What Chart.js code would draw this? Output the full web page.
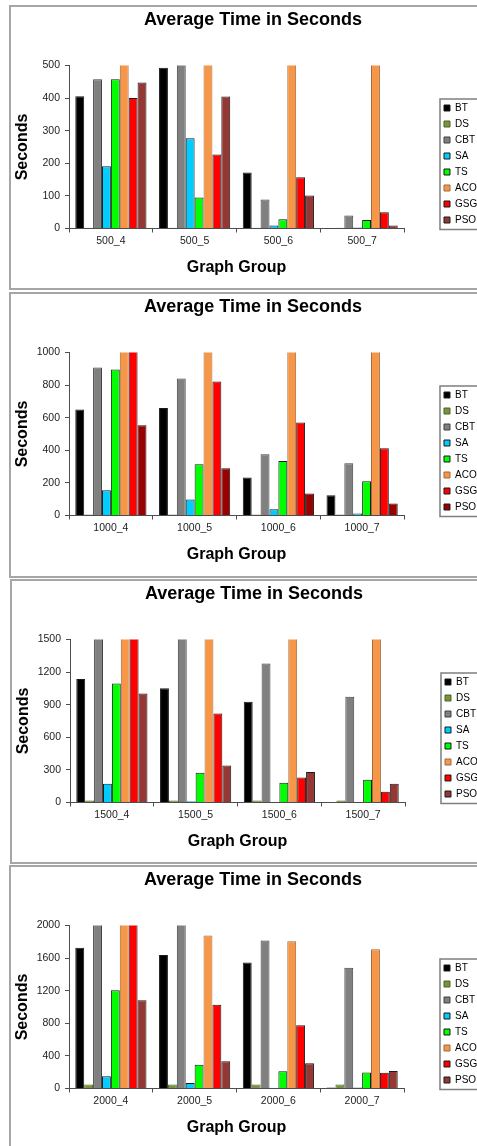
<!DOCTYPE html>
<html>
<head>
<meta charset="utf-8">
<script src="https://cdn.jsdelivr.net/npm/chart.js@4.4.0/dist/chart.umd.min.js"></script>
<style>
html, body { margin: 0; padding: 0; background: #fff; width: 477px; height: 1146px; overflow: hidden; position: relative; }
.panel { position: absolute; width: 500px; box-sizing: border-box; border: 2px solid #a6a6a6; background: #fff; overflow: hidden; }
.panel canvas { position: absolute; left: 0; top: 0; }
</style>
</head>
<body>
<div class="panel" style="left:9px;top:5px;height:285px"><canvas id="c0" width="484" height="281"></canvas></div>
<div class="panel" style="left:9px;top:292px;height:286px"><canvas id="c1" width="484" height="281"></canvas></div>
<div class="panel" style="left:10px;top:579px;height:285px"><canvas id="c2" width="484" height="281"></canvas></div>
<div class="panel" style="left:9px;top:865px;height:285px"><canvas id="c3" width="484" height="281"></canvas></div>
<script>
// one row per chart: 500, 1000, 1500, 2000 node graphs
var groups = [
    ['500_4', '500_5', '500_6', '500_7'],
    ['1000_4', '1000_5', '1000_6', '1000_7'],
    ['1500_4', '1500_5', '1500_6', '1500_7'],
    ['2000_4', '2000_5', '2000_6', '2000_7']
];
var series = ['BT', 'DS', 'CBT', 'SA', 'TS', 'ACO', 'GSGO', 'PSO'];
var yMax = [500, 1000, 1500, 2000];
var yStep = [100, 200, 300, 400];

var BT   = [[406, 493, 172, 1], [651, 659, 233, 124], [1137, 1051, 928, 4], [1727, 1637, 1547, 12]];
var DS   = [[2, 2, 2, 2], [6, 6, 6, 6], [18, 18, 18, 18], [49, 49, 49, 49]];
var CBT  = [[458, 560, 89, 40], [908, 841, 376, 320], [1620, 1580, 1279, 974], [2150, 2100, 1816, 1482]];
var SA   = [[191, 277, 9, 3], [155, 98, 39, 12], [172, 12, 3, 3], [151, 69, 10, 12]];
var TS   = [[458, 95, 28, 26], [896, 314, 335, 210], [1094, 274, 181, 209], [1204, 290, 212, 196]];
var ACO  = [[620, 600, 580, 560], [1250, 1200, 1180, 1150], [1800, 1750, 1700, 1650], [2050, 1878, 1808, 1710]];
var GSGO = [[400, 227, 157, 50], [1050, 822, 571, 412], [1560, 818, 230, 98], [2030, 1029, 776, 192]];
var PSO  = [[448, 405, 101, 9], [553, 290, 135, 73], [1002, 341, 280, 172], [1082, 335, 310, 216]];

var fills = ['#000000', '#77933C', '#808080', '#00CCFF', '#00FF00', '#F79646', '#FF0000', '#953735'];
var edges = ['#1a1a1a', '#4f6228', '#404040', '#1a1a1a', '#1a1a1a', '#9c6a40', '#1a1a1a', '#1a1a1a'];
var psoDark = '#990000';
var FONT = "'Liberation Sans', Arial, sans-serif";
var AXIS = '#4d4d4d';

// frame round the legend like the excel legend box
var legendFrame = {
    id: 'legendFrame',
    afterDraw: function(chart) {
        var hb = chart.legend.legendHitBoxes;
        if (!hb || !hb.length) return;
        var first = hb[0], last = hb[hb.length - 1];
        var ctx = chart.ctx;
        ctx.save();
        ctx.strokeStyle = '#7f7f7f';
        ctx.lineWidth = 1.5;
        ctx.strokeRect(first.left - 4, first.top - 4, chart.width, last.top + last.height - first.top + 8.5);
        ctx.restore();
    }
};

function makeChart(i) {
    var all = [BT, DS, CBT, SA, TS, ACO, GSGO, PSO];
    var ctx = document.getElementById('c' + i).getContext('2d');
    return new Chart(ctx, {
        type: 'bar',
        data: {
            labels: groups[i],
            datasets: series.map(function(name, k) {
                return {
                    label: name,
                    data: all[k][i],
                    backgroundColor: (k === 7 && i === 1) ? psoDark : fills[k],
                    borderColor: edges[k],
                    borderWidth: 1,
                    barPercentage: 1,
                    categoryPercentage: 0.85,
                    clip: 0
                };
            })
        },
        options: {
            responsive: false,
            animation: false,
            layout: { padding: 0 },
            plugins: {
                title: {
                    display: true,
                    text: 'Average Time in Seconds',
                    color: '#000',
                    font: { family: FONT, size: 18, weight: 'bold' },
                    padding: { top: 2.5, bottom: 34.4 }
                },
                legend: {
                    position: 'right',
                    align: 'start',
                    title: { display: true, text: ' ', font: { size: 10 }, padding: { top: 0, bottom: 78 } },
                    labels: {
                        boxWidth: 6,
                        boxHeight: 6,
                        padding: 6,
                        color: '#000',
                        font: { family: FONT, size: 10 }
                    }
                },
                tooltip: { enabled: false }
            },
            scales: {
                x: {
                    grid: { display: true, drawOnChartArea: false, drawTicks: true, tickLength: 4, color: AXIS, offset: true },
                    border: { display: true, color: AXIS, width: 1 },
                    ticks: { color: '#222', font: { family: FONT, size: 10.5 }, padding: 2, maxRotation: 0, autoSkip: false },
                    title: {
                        display: true,
                        text: 'Graph Group',
                        color: '#000',
                        font: { family: FONT, size: 16, weight: 'bold' },
                        padding: { top: 0, bottom: 10.9 }
                    },
                    afterFit: function(s) { s.height = 59.5; }
                },
                y: {
                    min: 0,
                    max: yMax[i],
                    ticks: {
                        stepSize: yStep[i],
                        color: '#222',
                        font: { family: FONT, size: 10.5 },
                        padding: 5,
                        callback: function(v) { return String(v); }
                    },
                    grid: { display: true, drawOnChartArea: false, drawTicks: true, tickLength: 4, color: AXIS },
                    border: { display: true, color: AXIS, width: 1 },
                    title: {
                        display: true,
                        text: 'Seconds',
                        color: '#000',
                        font: { family: FONT, size: 16, weight: 'bold' },
                        padding: { top: 1.5, bottom: 0 }
                    },
                    afterFit: function(s) { s.width = 58; }
                },
                // empty spacer between plot and legend
                gap: {
                    position: 'right',
                    display: true,
                    grid: { display: false },
                    border: { display: false },
                    ticks: { display: false },
                    afterFit: function(s) { s.width = Math.max(0, s.chart.width - s.chart.legend.width - 393); }
                }
            }
        },
        plugins: [legendFrame]
    });
}

for (var i = 0; i < 4; i++) makeChart(i);
</script>
</body>
</html>
